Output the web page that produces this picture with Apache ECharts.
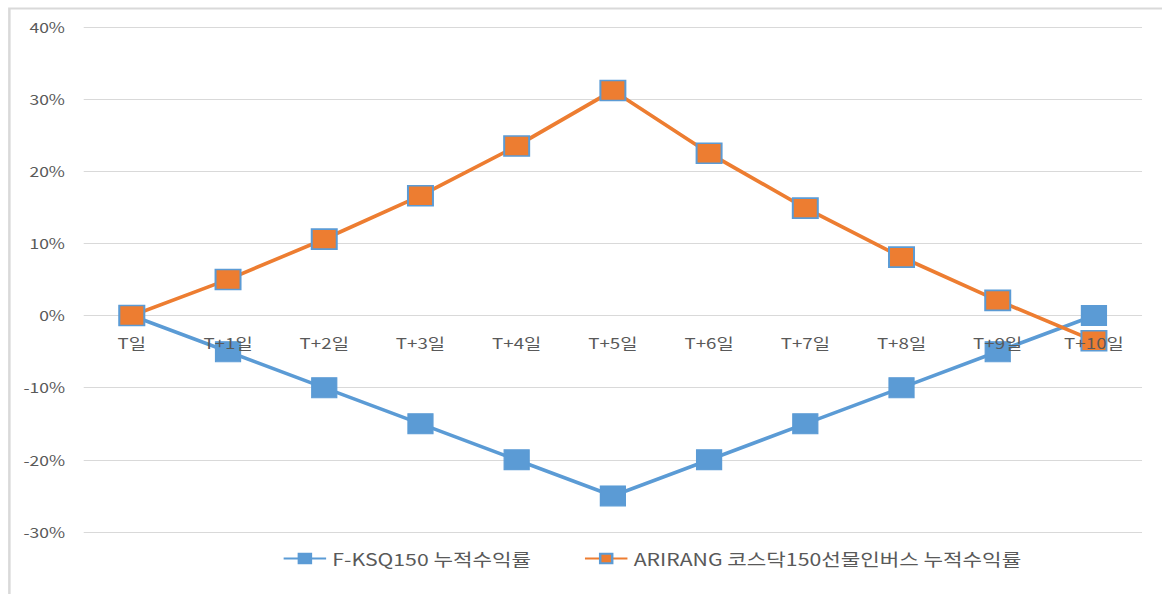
<!DOCTYPE html>
<html>
<head>
<meta charset="utf-8">
<script src="https://cdn.jsdelivr.net/npm/echarts@6/dist/echarts.min.js"></script>
<style>
html,body{margin:0;padding:0;background:#fff;overflow:hidden;}
#wrap{width:1162px;height:594px;overflow:hidden;position:relative;}
#c{width:930px;height:594px;transform:scaleX(1.2495);transform-origin:0 0;position:absolute;left:0;top:0;}
</style>
</head>
<body>
<div id="wrap"><div id="c"></div></div>
<script>
const categories = ['T일','T+1일','T+2일','T+3일','T+4일','T+5일','T+6일','T+7일','T+8일','T+9일','T+10일'];
const seriesNames = ['F-KSQ150 누적수익률', 'ARIRANG 코스닥150선물인버스 누적수익률'];
const fksq = [0, -5, -10, -15, -20, -25, -20, -15, -10, -5, 0];
const arirang = [0, 5, 10.6, 16.6, 23.5, 31.2, 22.5, 14.9, 8.1, 2.1, -3.5];
const yTicks = { min: -30, max: 40, interval: 10 };

const font = '"Noto Sans CJK KR", "Noto Sans", sans-serif';
const chart = echarts.init(document.getElementById('c'), null, { renderer: 'svg' });
chart.setOption({
  animation: false,
  backgroundColor: '#fff',
  textStyle: { fontFamily: font },
  graphic: [{
    type: 'rect', left: 5, top: 6, silent: true, z: -1,
    shape: { width: 1000, height: 600 },
    style: { fill: 'none', stroke: '#d9d9d9', lineWidth: 2 }
  }],
  grid: { left: 67, right: 16, top: 27, bottom: 62, containLabel: false },
  legend: {
    bottom: 22, left: 221, itemGap: 42, itemWidth: 34, itemHeight: 12,
    textStyle: { fontFamily: font, fontSize: 17, color: '#595959' },
    data: seriesNames
  },
  xAxis: {
    type: 'category', data: categories, boundaryGap: true, z: 10,
    axisLine: { show: false }, axisTick: { show: false },
    axisLabel: { margin: -197, fontFamily: font, fontSize: 15, color: '#595959', hideOverlap: false },
    splitLine: { show: false }
  },
  yAxis: {
    type: 'value', min: yTicks.min, max: yTicks.max, interval: yTicks.interval,
    axisLine: { show: false }, axisTick: { show: false },
    axisLabel: { formatter: '{value}%', margin: 15, fontFamily: font, fontSize: 14, color: '#595959' },
    splitLine: { lineStyle: { color: '#d9d9d9', width: 1 } }
  },
  series: [
    {
      name: seriesNames[0], type: 'line', data: fksq,
      symbol: 'rect', symbolSize: 20,
      lineStyle: { color: '#5B9BD5', width: 3.5 },
      itemStyle: { color: '#5B9BD5', borderColor: '#5B9BD5', borderWidth: 1 }
    },
    {
      name: seriesNames[1], type: 'line', data: arirang,
      symbol: 'rect', symbolSize: 20,
      lineStyle: { color: '#ED7D31', width: 3.5 },
      itemStyle: { color: '#ED7D31', borderColor: '#5B9BD5', borderWidth: 1.6 }
    }
  ]
});
</script>
</body>
</html>
